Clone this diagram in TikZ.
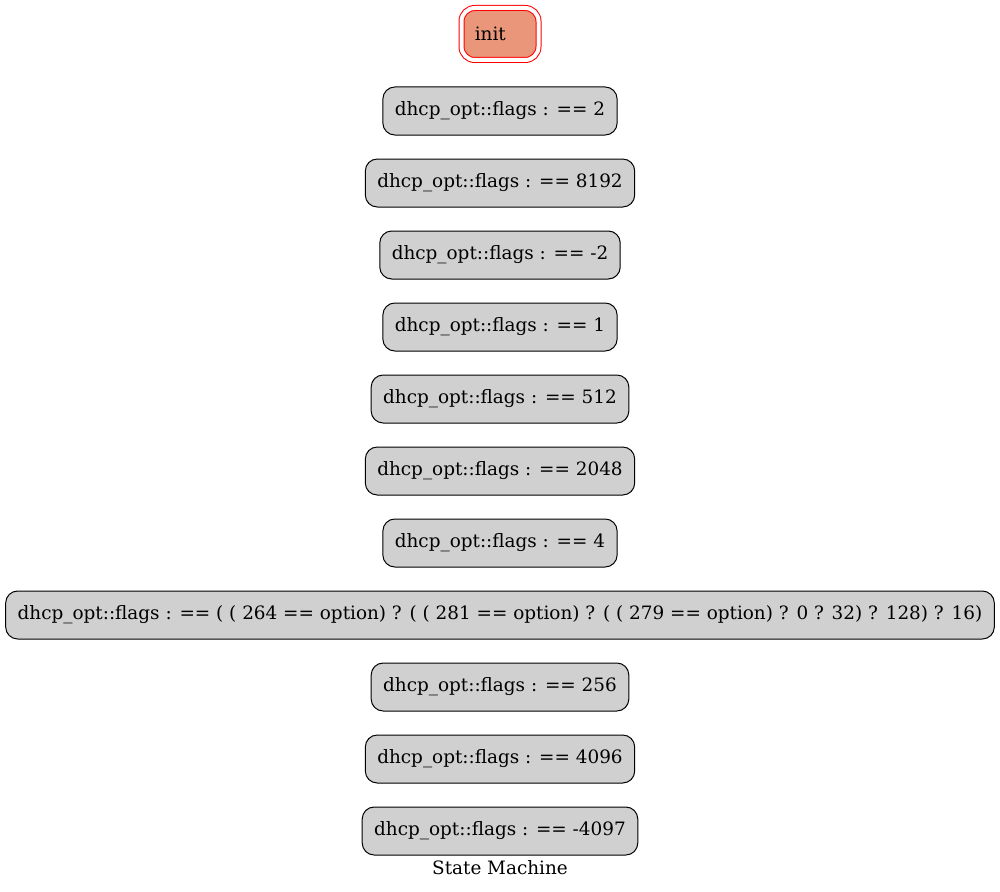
\documentclass[tikz,border=0pt]{standalone}
\usepackage{fontspec}
\setmainfont{DejaVu Serif}
\usetikzlibrary{positioning}
\definecolor{statefill}{RGB}{208,208,208}
\definecolor{initfill}{RGB}{233,150,122}
\begin{document}
\begin{tikzpicture}[node distance=17.25pt,
  main node/.style={rectangle, rounded corners=9pt, draw=black, line width=0.75pt, fill=statefill, minimum height=36pt, inner xsep=9pt},
  init node/.style={rectangle, rounded corners=10pt, draw=red, fill=initfill, line width=0.75pt, double, double distance=3pt, minimum height=39pt, inner xsep=10pt, text width=37.75pt, align=left}]
            \tikzstyle{every node}=[font=\fontsize{13.8pt}{16pt}\selectfont]
            \useasboundingbox (0,0) rectangle (750pt,-669pt);

              \node[init node] (0) at (375pt,-25.5pt) {init};
              \node[main node] (1) [below=19.5pt of 0] {dhcp\_opt::flags : == 2};
              \node[main node] (2) [below=of 1] {dhcp\_opt::flags : == 8192};
              \node[main node] (3) [below=of 2] {dhcp\_opt::flags : == -2};
              \node[main node] (4) [below=of 3] {dhcp\_opt::flags : == 1};
              \node[main node] (5) [below=of 4] {dhcp\_opt::flags : == 512};
              \node[main node] (6) [below=of 5] {dhcp\_opt::flags : == 2048};
              \node[main node] (7) [below=of 6] {dhcp\_opt::flags : == 4};
              \node[main node] (8) [below=of 7] {dhcp\_opt::flags : == ( ( 264 == option) ? ( ( 281 == option) ? ( ( 279 == option) ? 0 ? 32) ? 128) ? 16)};
              \node[main node] (9) [below=of 8] {dhcp\_opt::flags : == 256};
              \node[main node] (10) [below=of 9] {dhcp\_opt::flags : == 4096};
              \node[main node] (11) [below=of 10] {dhcp\_opt::flags : == -4097};
              \node[] (12) [below=0pt of 11] {State Machine};

            \end{tikzpicture}
\end{document}
